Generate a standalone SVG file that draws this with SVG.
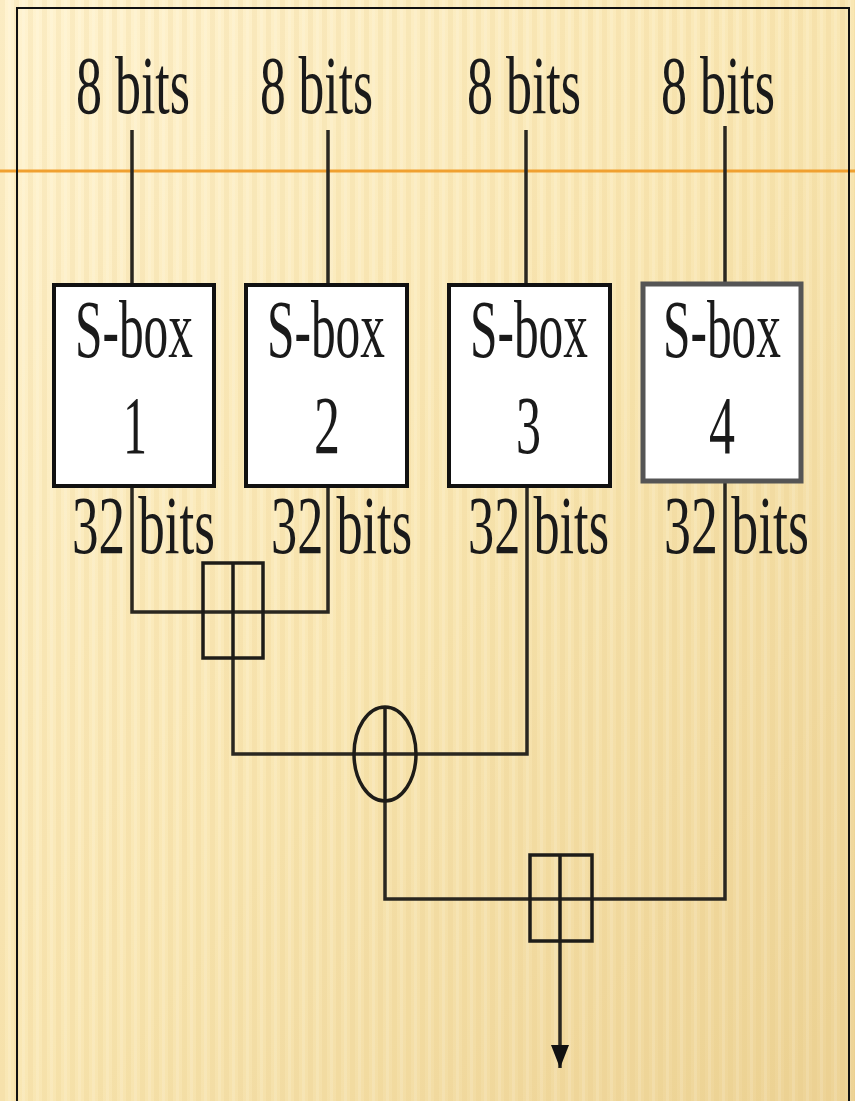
<svg xmlns="http://www.w3.org/2000/svg" width="855" height="1101" viewBox="0 0 855 1101">
<defs>
<linearGradient id="bg" x1="0" y1="0" x2="1" y2="1">
<stop offset="0" stop-color="#FFF3D0"/>
<stop offset="0.5" stop-color="#F9E7B4"/>
<stop offset="1" stop-color="#EDD396"/>
</linearGradient>
<pattern id="stripes" width="14" height="1101" patternUnits="userSpaceOnUse">
<rect x="0" y="0" width="5" height="1101" fill="#E2C070" opacity="0.14"/>
<rect x="8" y="0" width="3" height="1101" fill="#FFFFFF" opacity="0.12"/>
</pattern>
<marker id="arrow" markerWidth="24" markerHeight="20" refX="23" refY="10" orient="auto" markerUnits="userSpaceOnUse" viewBox="0 0 24 20">
<path d="M0,1 L0,19 L23,10 Z" fill="#111"/>
</marker>
<style>
.lbl{font-family:"Liberation Serif","Times New Roman",serif;font-size:82px;fill:#1a1a1a;}
.box{fill:#fff;stroke:#111;stroke-width:4;}
.box4{fill:#fff;stroke:#555;stroke-width:5;}
.ln{fill:none;stroke:#2a2720;stroke-width:3.5;}
.cat{fill:none;stroke:#1e1c18;stroke-width:3.5;}
</style>
</defs>
<rect x="0" y="0" width="855" height="1101" fill="url(#bg)"/>
<rect x="0" y="0" width="855" height="1101" fill="url(#stripes)"/>
<line x1="0" y1="171" x2="855" y2="171" stroke="#F0A030" stroke-width="3"/>
<rect x="17" y="8" width="832" height="1110" fill="none" stroke="#111" stroke-width="2"/>

<g id="connectors">
<line class="ln" x1="132" y1="130" x2="132" y2="283"/>
<line class="ln" x1="328" y1="130" x2="328" y2="283"/>
<line class="ln" x1="526" y1="130" x2="526" y2="283"/>
<line class="ln" x1="725" y1="126" x2="725" y2="282"/>
<polyline class="ln" points="132,488 132,612 328,612 328,488"/>
<polyline class="ln" points="233,658 233,754 527,754 527,488"/>
<polyline class="ln" points="385,801 385,899 725,899 725,483"/>
<line class="ln" x1="560" y1="941" x2="560" y2="1068" marker-end="url(#arrow)"/>
</g>

<g id="label-in1"><text class="lbl" x="76" y="113" textLength="114" lengthAdjust="spacingAndGlyphs">8 bits</text></g>
<g id="label-in2"><text class="lbl" x="260" y="113" textLength="113" lengthAdjust="spacingAndGlyphs">8 bits</text></g>
<g id="label-in3"><text class="lbl" x="467" y="113" textLength="114" lengthAdjust="spacingAndGlyphs">8 bits</text></g>
<g id="label-in4"><text class="lbl" x="661" y="113" textLength="114" lengthAdjust="spacingAndGlyphs">8 bits</text></g>

<g id="sbox1">
<rect class="box" x="54" y="285" width="160" height="201"/>
<text class="lbl" x="75" y="357" textLength="118" lengthAdjust="spacingAndGlyphs">S-box</text>
<text class="lbl" x="123" y="453" textLength="24" lengthAdjust="spacingAndGlyphs">1</text>
</g>
<g id="sbox2">
<rect class="box" x="246" y="285" width="161" height="201"/>
<text class="lbl" x="267" y="357" textLength="118" lengthAdjust="spacingAndGlyphs">S-box</text>
<text class="lbl" x="314" y="453" textLength="26" lengthAdjust="spacingAndGlyphs">2</text>
</g>
<g id="sbox3">
<rect class="box" x="449" y="285" width="161" height="201"/>
<text class="lbl" x="470" y="357" textLength="118" lengthAdjust="spacingAndGlyphs">S-box</text>
<text class="lbl" x="516" y="453" textLength="25" lengthAdjust="spacingAndGlyphs">3</text>
</g>
<g id="sbox4">
<rect class="box4" x="643" y="284" width="158" height="197"/>
<text class="lbl" x="663" y="357" textLength="118" lengthAdjust="spacingAndGlyphs">S-box</text>
<text class="lbl" x="709" y="453" textLength="26" lengthAdjust="spacingAndGlyphs">4</text>
</g>

<g id="label-out1"><text class="lbl" x="72" y="553" textLength="143" lengthAdjust="spacingAndGlyphs">32 bits</text></g>
<g id="label-out2"><text class="lbl" x="271" y="553" textLength="141" lengthAdjust="spacingAndGlyphs">32 bits</text></g>
<g id="label-out3"><text class="lbl" x="468" y="553" textLength="141" lengthAdjust="spacingAndGlyphs">32 bits</text></g>
<g id="label-out4"><text class="lbl" x="664" y="553" textLength="145" lengthAdjust="spacingAndGlyphs">32 bits</text></g>

<g id="concat1">
<rect class="cat" x="203" y="563" width="60" height="95"/>
<line class="cat" x1="233" y1="563" x2="233" y2="658"/>
</g>
<g id="xor">
<ellipse class="cat" cx="385" cy="754" rx="31" ry="47"/>
<line class="cat" x1="385" y1="707" x2="385" y2="801"/>
</g>
<g id="concat2">
<rect class="cat" x="530" y="855" width="62" height="86"/>
<line class="cat" x1="560" y1="855" x2="560" y2="941"/>
</g>
</svg>
